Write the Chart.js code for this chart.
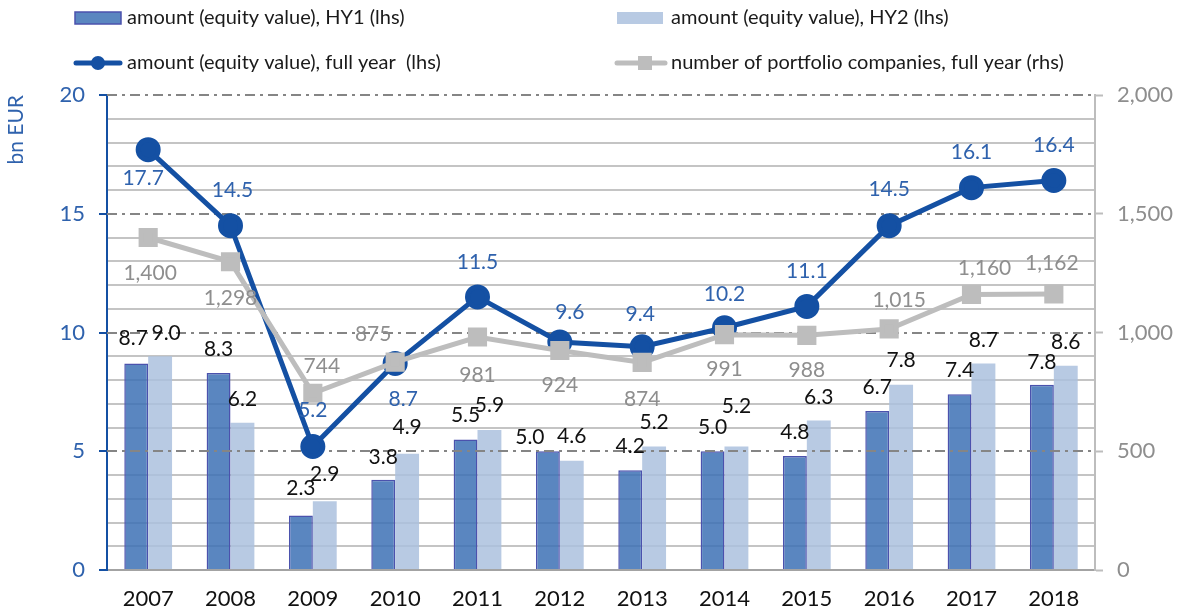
<!doctype html>
<html>
<head>
<meta charset="utf-8">
<title>Equity value and portfolio companies</title>
<script src="https://cdn.jsdelivr.net/npm/chart.js"></script>
<style>
  html, body { margin: 0; padding: 0; background: #fff; }
  #wrap { width: 1182px; height: 614px; }
</style>
</head>
<body>
<div id="wrap"><canvas id="equity"></canvas></div>
<script>
const years = ['2007', '2008', '2009', '2010', '2011', '2012', '2013', '2014', '2015', '2016', '2017', '2018'];
const amountHY1 = [8.7, 8.3, 2.3, 3.8, 5.5, 5.0, 4.2, 5.0, 4.8, 6.7, 7.4, 7.8];
const amountHY2 = [9.0, 6.2, 2.9, 4.9, 5.9, 4.6, 5.2, 5.2, 6.3, 7.8, 8.7, 8.6];
const amountFullYear = [17.7, 14.5, 5.2, 8.7, 11.5, 9.6, 9.4, 10.2, 11.1, 14.5, 16.1, 16.4];
const companies = [1400, 1298, 744, 875, 981, 924, 874, 991, 988, 1015, 1160, 1162];

// label nudges [dx, dy] from each mark (bar top / point centre)
const hy1Shift = [[-3, -25], [0, -24], [0, -27], [0, -23], [0, -24], [-18, -14], [0, -24], [0, -24], [0, -24], [0, -24], [0, -24], [0, -23]];
const hy2Shift = [[6, -23], [0, -24], [0, -27], [0, -26], [0, -25], [0, -25], [0, -24], [0, -40], [0, -23], [0, -25], [0, -23], [0, -24]];
const fullShift = [[-5, 29], [2, -35], [0, -36], [8, 36], [0, -35], [10, -30], [-2, -33], [0, -34], [0, -35], [0, -36], [0, -35], [0, -35]];
const compShift = [[2, 36], [0, 37], [9, -27], [-22, -28], [0, 38], [0, 35], [0, 37], [0, 35], [0, 35], [10, -29], [13, -26], [-2, -31]];

const FONT = 'Lato, "Noto Sans", sans-serif';
const BLUE = '#1450a3';
const BLUE_TEXT = '#2f62ad';
const GREY = '#bdbdbd';
const GREY_TEXT = '#8e8e8e';
const MAJOR = 5;   // labelled step on the left axis
const isMajor = c => !!c.tick && c.tick.value % MAJOR === 0;

// dash-dot lines at the labelled steps, painted after the bars
const majorGrid = {
    id: 'majorGrid',
    afterDatasetDraw(chart, args) {
        if (args.index !== 0) return;
        const y = chart.scales.y;
        const area = chart.chartArea;
        const ctx = chart.ctx;
        ctx.save();
        ctx.lineWidth = 2;
        ctx.strokeStyle = '#858585';
        ctx.setLineDash([10, 5, 3, 5]);
        y.ticks.forEach(t => {
            if (t.value === 0 || t.value % MAJOR !== 0) return;
            const py = Math.round(y.getPixelForValue(t.value));
            ctx.beginPath();
            ctx.moveTo(area.left, py);
            ctx.lineTo(area.right, py);
            ctx.stroke();
        });
        ctx.restore();
    }
};

// value labels next to every bar and point
const valueLabels = {
    id: 'valueLabels',
    afterDatasetsDraw(chart) {
        const ctx = chart.ctx;
        ctx.save();
        ctx.font = '21px ' + FONT;
        ctx.textAlign = 'center';
        ctx.textBaseline = 'middle';
        chart.data.datasets.forEach((ds, i) => {
            const meta = chart.getDatasetMeta(i);
            ctx.fillStyle = ds.labelColor;
            meta.data.forEach((el, j) => {
                const s = ds.labelShift[j];
                ctx.fillText(ds.labelFormat(ds.data[j]), el.x + s[0], el.y + s[1]);
            });
        });
        ctx.restore();
    }
};

// two column legend above the plot
const legendGrid = {
    id: 'legendGrid',
    afterDraw(chart) {
        const ctx = chart.ctx;
        const ds = chart.data.datasets;
        ctx.save();
        ctx.font = '20px ' + FONT;
        ctx.textBaseline = 'middle';

        // HY1 box
        ctx.fillStyle = '#5a86c0';
        ctx.fillRect(75, 12, 46, 12);
        ctx.strokeStyle = ds[0].borderColor;
        ctx.lineWidth = 1.5;
        ctx.strokeRect(75, 12, 46, 12);
        // HY2 box
        ctx.fillStyle = '#b8cae3';
        ctx.fillRect(617, 12, 46, 12);
        // full year line
        ctx.strokeStyle = BLUE;
        ctx.lineWidth = 5;
        ctx.lineCap = 'round';
        ctx.beginPath();
        ctx.moveTo(76, 63);
        ctx.lineTo(120, 63);
        ctx.stroke();
        ctx.fillStyle = BLUE;
        ctx.beginPath();
        ctx.arc(98, 63, 7, 0, Math.PI * 2);
        ctx.fill();
        // companies line
        ctx.strokeStyle = GREY;
        ctx.beginPath();
        ctx.moveTo(617, 63);
        ctx.lineTo(665, 63);
        ctx.stroke();
        ctx.fillStyle = GREY;
        ctx.fillRect(638, 56, 14, 14);

        ctx.fillStyle = '#1a1a1a';
        ctx.fillText(ds[0].label, 127, 18);
        ctx.fillText(ds[1].label, 671, 18);
        ctx.fillText(ds[2].label, 127, 63);
        ctx.fillText(ds[3].label, 671, 63);
        ctx.restore();
    }
};

const fmt1 = v => v.toFixed(1);
const fmtInt = v => v.toLocaleString('en-US');

new Chart(document.getElementById('equity').getContext('2d'), {
    type: 'bar',
    data: {
        labels: years,
        datasets: [{
            label: 'amount (equity value), HY1 (lhs)',
            data: amountHY1,
            // slightly see-through so the thin grid shows across the bars
            backgroundColor: 'rgba(61, 113, 181, 0.85)',
            borderColor: '#4b52ad',
            borderWidth: 1.5,
            yAxisID: 'y',
            order: 2,
            labelShift: hy1Shift,
            labelFormat: fmt1,
            labelColor: '#111'
        },
        {
            label: 'amount (equity value), HY2 (lhs)',
            data: amountHY2,
            backgroundColor: 'rgba(171, 193, 222, 0.85)',
            borderWidth: 0,
            yAxisID: 'y',
            order: 2,
            labelShift: hy2Shift,
            labelFormat: fmt1,
            labelColor: '#111'
        },
        {
            type: 'line',
            label: 'amount (equity value), full year  (lhs)',
            data: amountFullYear,
            borderColor: BLUE,
            backgroundColor: BLUE,
            borderWidth: 5,
            pointRadius: 10,
            pointHoverRadius: 10,
            pointStyle: 'circle',
            yAxisID: 'y',
            order: 1,
            labelShift: fullShift,
            labelFormat: fmt1,
            labelColor: BLUE_TEXT
        },
        {
            type: 'line',
            label: 'number of portfolio companies, full year (rhs)',
            data: companies,
            borderColor: GREY,
            backgroundColor: GREY,
            borderWidth: 5,
            pointStyle: 'rect',
            pointRadius: 10,
            pointHoverRadius: 10,
            yAxisID: 'y1',
            order: 0,
            labelShift: compShift,
            labelFormat: fmtInt,
            labelColor: GREY_TEXT
        }]
    },
    options: {
        responsive: true,
        maintainAspectRatio: false,
        animation: false,
        layout: { padding: { top: 95, left: 0, right: 0, bottom: 0 } },
        plugins: {
            legend: { display: false },
            tooltip: { enabled: false }
        },
        datasets: {
            bar: { categoryPercentage: 0.58, barPercentage: 1.0 }
        },
        scales: {
            x: {
                grid: { drawOnChartArea: false, drawTicks: false },
                border: { color: '#a3a3a3', width: 2 },
                ticks: { color: '#111', font: { size: 22, family: FONT }, padding: 16 },
                afterFit: s => { s.height = 44; }
            },
            y: {
                position: 'left',
                min: 0,
                max: 20,
                ticks: {
                    stepSize: 1,
                    maxTicksLimit: 25,
                    autoSkip: false,
                    color: BLUE_TEXT,
                    font: { size: 22, family: FONT },
                    padding: 14,
                    callback: v => (v % MAJOR === 0 ? v : '')
                },
                grid: {
                    lineWidth: 2,
                    color: c => (isMajor(c) ? 'rgba(0,0,0,0)' : '#c4c4c4'),
                    tickLength: 8,
                    tickWidth: 2,
                    tickColor: c => (isMajor(c) ? BLUE : 'rgba(0,0,0,0)')
                },
                border: { color: BLUE, width: 2 },
                title: {
                    display: true,
                    text: 'bn EUR',
                    align: 'end',
                    color: BLUE_TEXT,
                    font: { size: 21, family: FONT },
                    padding: { top: 4, bottom: 0 }
                },
                afterFit: s => { s.width = 107; }
            },
            y1: {
                position: 'right',
                min: 0,
                max: 2000,
                ticks: {
                    stepSize: 500,
                    color: GREY_TEXT,
                    font: { size: 22, family: FONT },
                    padding: 14,
                    callback: v => v.toLocaleString('en-US')
                },
                grid: { drawOnChartArea: false, tickLength: 8, tickWidth: 2, tickColor: GREY },
                border: { color: GREY, width: 2 },
                afterFit: s => { s.width = 87; }
            }
        }
    },
    plugins: [majorGrid, valueLabels, legendGrid]
});
</script>
</body>
</html>
